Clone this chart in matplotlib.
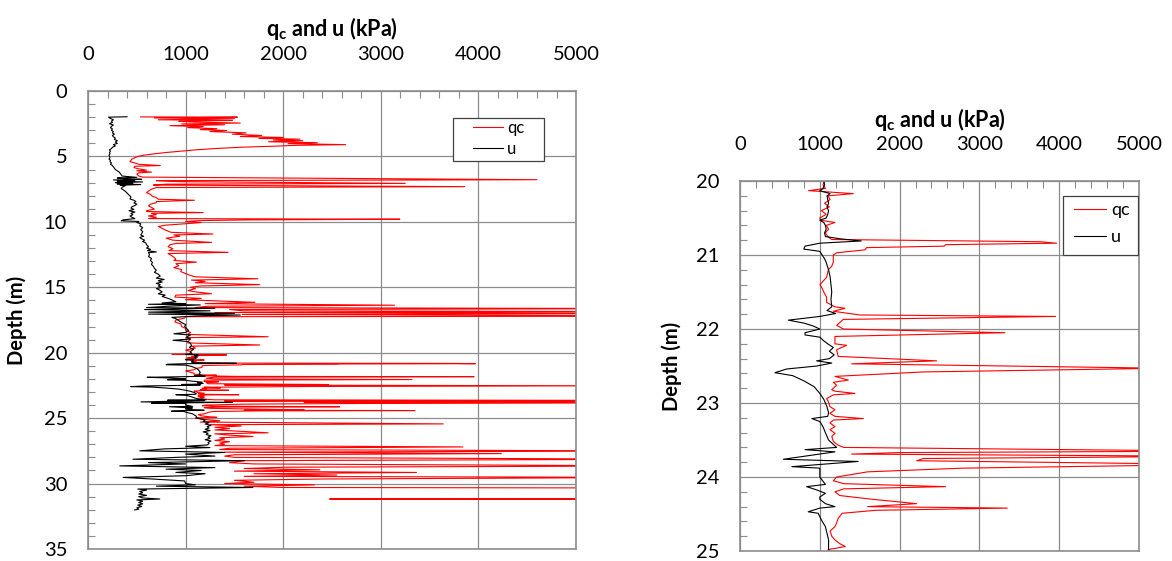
import matplotlib.pyplot as plt
from matplotlib.patches import Rectangle
from matplotlib.ticker import MultipleLocator

plt.rcParams['font.family'] = ['Lato', 'DejaVu Sans']
plt.rcParams['mathtext.fontset'] = 'custom'
plt.rcParams['mathtext.bf'] = 'Lato:bold'
plt.rcParams['mathtext.rm'] = 'Lato'

# cone resistance qc (kPa) against depth (m); values above 5000 run off the chart
qc_depth = [1.98, 2.0, 2.06, 2.12, 2.2, 2.25, 2.32, 2.38, 2.45, 2.52, 2.58, 2.65, 2.72, 2.8, 2.88, 2.95,
            3.02, 3.1, 3.2, 3.3, 3.4, 3.48, 3.55, 3.62, 3.68, 3.75, 3.8, 3.88, 3.95, 4.02, 4.1, 4.15,
            4.22, 4.3, 4.4, 4.5, 4.6, 4.7, 4.8, 4.9, 5.0, 5.1, 5.2, 5.3, 5.4, 5.5, 5.6, 5.7, 5.75, 5.85,
            5.95, 6.05, 6.1, 6.2, 6.25, 6.35, 6.5, 6.58, 6.78, 6.85, 6.93, 7.06, 7.12, 7.19, 7.31, 7.38,
            7.5, 7.65, 7.77, 7.9, 8.05, 8.15, 8.27, 8.35, 8.45, 8.53, 8.65, 8.78, 8.9, 9.03, 9.15, 9.21,
            9.29, 9.35, 9.45, 9.55, 9.65, 9.75, 9.8, 9.85, 9.9, 9.97, 10.05, 10.15, 10.25, 10.35, 10.5,
            10.65, 10.8, 10.93, 11.0, 11.1, 11.25, 11.4, 11.57, 11.65, 11.75, 11.9, 12.05, 12.2, 12.33,
            12.42, 12.55, 12.7, 12.85, 12.95, 13.08, 13.2, 13.35, 13.5, 13.65, 13.8, 13.95, 14.1, 14.2,
            14.35, 14.45, 14.55, 14.65, 14.8, 14.9, 15.0, 15.1, 15.25, 15.35, 15.49, 15.6, 15.75, 15.85,
            15.95, 16.15, 16.25, 16.37, 16.45, 16.55, 16.63, 16.7, 16.8, 16.86, 16.93, 17.0, 17.08, 17.18,
            17.21, 17.25, 17.35, 17.5, 17.65, 17.8, 18.0, 18.15, 18.3, 18.45, 18.6, 18.78, 18.85, 18.95,
            19.1, 19.25, 19.41, 19.5, 19.65, 19.8, 19.9,
            20.0, 20.05, 20.1, 20.13, 20.15, 20.17, 20.2, 20.25, 20.3, 20.35, 20.4, 20.45, 20.5, 20.53,
            20.56, 20.6, 20.65, 20.7, 20.75, 20.79, 20.82, 20.84, 20.86, 20.88, 20.9, 20.93, 20.97, 21.0,
            21.1, 21.15, 21.2, 21.3, 21.4, 21.45, 21.5, 21.57, 21.64, 21.7, 21.72, 21.76, 21.81, 21.83,
            21.87, 21.95, 22.0, 22.05, 22.1, 22.2, 22.22, 22.28, 22.37, 22.43, 22.47, 22.53, 22.58, 22.64,
            22.69, 22.72, 22.76, 22.82, 22.84, 22.87, 22.89, 22.94, 22.98, 23.05, 23.09, 23.14, 23.18,
            23.21, 23.23, 23.27, 23.32, 23.36, 23.41, 23.45, 23.52, 23.57, 23.6, 23.65, 23.67, 23.69,
            23.72, 23.75, 23.78, 23.83, 23.88, 23.93, 24.0, 24.05, 24.09, 24.13, 24.16, 24.2, 24.25, 24.3,
            24.36, 24.4, 24.42, 24.45, 24.49, 24.56, 24.62, 24.67, 24.73, 24.8, 24.85, 24.9, 24.94, 24.98,
            25.0, 25.1, 25.2, 25.3, 25.44, 25.5, 25.6, 25.7, 25.8, 25.9, 26.0, 26.12, 26.2, 26.3, 26.4,
            26.5, 26.6, 26.7, 26.8, 26.9, 27.0, 27.1, 27.2, 27.3, 27.4, 27.51, 27.6, 27.71, 27.8, 27.9,
            28.0, 28.14, 28.25, 28.4, 28.5, 28.65, 28.75, 28.85, 28.95, 29.05, 29.15, 29.25, 29.35, 29.45,
            29.53, 29.65, 29.75, 29.9, 30.0, 30.1, 30.2, 30.3, 30.34, 31.15, 31.18, 31.21, 32.0]
qc_kpa = [540, 1530, 680, 1500, 720, 1480, 930, 1100, 1560, 960, 1400, 840, 1180, 1020, 1320, 1150,
          1420, 1250, 1620, 1480, 1780, 1560, 2000, 1750, 2170, 1900, 2200, 1850, 2350, 2050, 2640, 2150,
          1900, 1560, 1300, 1100, 950, 800, 680, 580, 510, 480, 450, 440, 430, 480, 520, 740, 480, 470,
          520, 600, 500, 650, 520, 500, 520, 560, 4600, 700, 960, 3250, 800, 670, 3860, 700,
          650, 620, 600, 640, 660, 700, 720, 1090, 700, 700, 640, 620, 650, 680, 600, 600,
          1180, 650, 700, 620, 700, 620, 3195, 1660, 1160, 1000, 1160, 990, 800, 720, 760,
          800, 850, 1280, 880, 940, 800, 870, 1265, 900, 840, 820, 870, 830, 1435,
          820, 850, 880, 900, 880, 1110, 900, 930, 880, 960, 950, 1000, 1050, 1100,
          1740, 1060, 1200, 1100, 1760, 1150, 1050, 1100, 1025, 1100, 1265, 900, 890, 1160,
          1000, 1710, 1200, 3140, 1230, 1100, 6000, 1450, 1590, 6000, 1300, 6000, 1580, 6000,
          6000, 1000, 990, 900, 890, 950, 960, 1000, 1000, 1050, 1020, 1845, 1000, 1050,
          1030, 1020, 1760, 1060, 1100, 1000, 1050,
          1060, 1040, 1070, 860, 1150, 1420, 1100, 1130, 1060, 1120, 1020, 1080, 1000, 1010,
          1190, 1080, 1110, 1070, 1100, 1150, 3760, 3968, 2577, 2560, 1587, 1566, 1211, 1169,
          1169, 1150, 1107, 1086, 1002, 1030, 1050, 1086, 1086, 1190, 1315, 1170, 1500, 3955,
          1295, 1211, 1295, 3320, 1190, 1190, 1336, 1211, 1230, 2464, 1400, 5300, 2300, 1190,
          1357, 1170, 1211, 1150, 1190, 1440, 1170, 1086, 1107, 1128, 1190, 1128, 1190,
          1545, 1170, 1128, 1190, 1128, 1190, 1150, 1170, 1230, 1300, 6000, 1984, 1399,
          6000, 2300, 2214, 6000, 2800, 1600, 1210, 1170, 1300, 2577, 1300, 1190, 1250, 1650,
          2214, 1600, 3350, 1700, 1280, 1230, 1211, 1190, 1130, 1150, 1190, 1250, 1320, 1107,
          1100, 1200, 1350, 1150, 3640, 1250, 1570, 1300, 1450, 1300, 1550, 1845, 1300, 1450, 1690,
          1350, 1400, 1300, 1450, 1350, 1400, 1300, 3840, 1450, 1350, 6000, 1400, 4235, 1500, 1400,
          1500, 6000, 1600, 1450, 1700, 6000, 2030, 1600, 2375, 1500, 3365, 1700, 2550, 1600,
          6000, 2410, 1500, 1700, 1400, 2320, 1600, 2000, 6000, 6000, 2475, 6000, 6000]

# pore pressure u (kPa) against depth (m)
u_depth = [1.97, 2.0, 2.1, 2.2, 2.3, 2.4, 2.5, 2.6, 2.7, 2.8, 2.9, 3.0, 3.1, 3.2, 3.3, 3.4, 3.5, 3.6, 3.7,
           3.8, 3.9, 4.0, 4.1, 4.2, 4.3, 4.4, 4.5, 4.6, 4.7, 4.8, 4.9, 5.0, 5.1, 5.2, 5.3, 5.4, 5.5, 5.6,
           5.7, 5.8, 5.9, 6.0, 6.1, 6.2, 6.3, 6.4, 6.5, 6.6, 6.65, 6.7, 6.75, 6.8, 6.85, 6.9, 6.95, 7.0,
           7.05, 7.1, 7.15, 7.2, 7.25, 7.35, 7.45, 7.55, 7.65, 7.8, 7.95, 8.1, 8.25, 8.35, 8.45, 8.55,
           8.65, 8.75, 8.85, 8.95, 9.05, 9.15, 9.25, 9.35, 9.45, 9.55, 9.65, 9.75, 9.85, 9.92, 9.97,
           10.05, 10.15, 10.3, 10.45, 10.6, 10.75, 10.9, 11.0, 11.1, 11.2, 11.3, 11.4, 11.5, 11.6, 11.75,
           11.9, 12.0, 12.1, 12.2, 12.3, 12.35, 12.5, 12.65, 12.8, 12.95, 13.1, 13.25, 13.4, 13.55, 13.7,
           13.85, 14.0, 14.15, 14.3, 14.4, 14.5, 14.6, 14.7, 14.8, 14.9, 15.0, 15.1, 15.2, 15.35, 15.5,
           15.6, 15.7, 15.8, 15.9, 16.0, 16.1, 16.2, 16.25, 16.3, 16.35, 16.45, 16.55, 16.6, 16.7, 16.8,
           16.9, 17.0, 17.05, 17.12, 17.2, 17.3, 17.4, 17.55, 17.7, 17.85, 18.0, 18.15, 18.3, 18.45,
           18.55, 18.65, 18.8, 18.95, 19.05, 19.15, 19.3, 19.45, 19.6, 19.75, 19.9,
           20.0, 20.05, 20.1, 20.13, 20.17, 20.2, 20.25, 20.3, 20.35, 20.4, 20.45, 20.5, 20.53, 20.56,
           20.6, 20.65, 20.7, 20.75, 20.78, 20.81, 20.84, 20.88, 20.92, 20.95, 21.0, 21.05, 21.1, 21.2,
           21.3, 21.4, 21.5, 21.6, 21.7, 21.75, 21.79, 21.83, 21.88, 21.92, 21.96, 22.0, 22.05, 22.08,
           22.11, 22.16, 22.2, 22.25, 22.3, 22.35, 22.4, 22.43, 22.46, 22.5, 22.54, 22.59, 22.63, 22.7,
           22.78, 22.87, 22.95, 23.05, 23.13, 23.18, 23.21, 23.25, 23.32, 23.4, 23.5, 23.6, 23.63, 23.66,
           23.76, 23.79, 23.86, 23.88, 24.0, 24.1, 24.13, 24.17, 24.22, 24.27, 24.3, 24.36, 24.4, 24.42,
           24.47, 24.49, 24.58, 24.67, 24.76, 24.85, 24.98,
           25.05, 25.15, 25.25, 25.35, 25.45, 25.55, 25.65, 25.75, 25.85, 25.95, 26.05, 26.15, 26.25,
           26.35, 26.45, 26.55, 26.65, 26.75, 26.85, 26.95, 27.05, 27.15, 27.25, 27.35, 27.5, 27.62,
           27.75, 27.9, 28.0, 28.14, 28.25, 28.4, 28.5, 28.65, 28.78, 28.9, 29.0, 29.15, 29.25, 29.4,
           29.53, 29.66, 29.8, 30.0, 30.1, 30.2, 30.3, 30.42, 30.5, 30.6, 30.7, 30.8, 30.9, 31.0, 31.1,
           31.18, 31.25, 31.35, 31.45, 31.55, 31.65, 31.75, 31.85, 31.95, 32.02]
u_kpa = [400, 210, 230, 260, 240, 250, 220, 260, 240, 230, 250, 240, 260, 250, 270, 250, 260, 280, 270,
         300, 280, 300, 260, 280, 250, 240, 220, 230, 220, 225, 215, 220, 225, 215, 230, 225, 240, 230,
         250, 260, 270, 280, 300, 320, 330, 340, 350, 500, 300, 380, 550, 260, 480, 300, 560, 280,
         460, 300, 540, 330, 380, 350, 340, 360, 380, 400, 420, 440, 430, 470, 490, 470,
         500, 480, 450, 440, 470, 420, 480, 440, 460, 430, 450, 480, 360, 340, 520,
         500, 540, 530, 560, 540, 560, 550, 540, 570, 530, 550, 580, 560, 590, 600,
         620, 600, 640, 610, 700, 620, 630, 620, 650, 640, 660, 650, 670, 680, 700,
         680, 720, 740, 700, 780, 720, 760, 700, 740, 720, 760, 700, 730, 760, 720,
         790, 760, 800, 840, 870, 900, 760, 1000, 620, 1150, 820, 600, 1300, 580, 1250,
         620, 1500, 620, 1560, 1100, 860, 900, 930, 960, 1000, 990, 1010, 1030, 1000,
         880, 1050, 1010, 1050, 870, 1030, 1050, 1060, 1040, 1080, 1050,
         1050, 1060, 1040, 1000, 1130, 1090, 1100, 1110, 1090, 1110, 1100, 1080, 1000, 1050,
         1070, 1080, 1060, 1070, 1250, 1520, 1000, 815, 800, 1000, 1030, 1060, 1080, 1110,
         1130, 1140, 1150, 1140, 1150, 1090, 1200, 1000, 606, 800, 920, 1000, 815, 815,
         1000, 1050, 1100, 1170, 1120, 1180, 1120, 960, 1150, 960, 585, 438, 660, 800,
         930, 1000, 1050, 1090, 1110, 1100, 900, 1000, 1040, 1070, 1110, 1211, 815, 1190,
         543, 1480, 650, 1000, 1000, 1070, 835, 950, 1070, 1000, 1000, 1070, 1190, 1000,
         855, 980, 1020, 1070, 1090, 1110, 1110,
         1150, 1200, 1180, 1240, 1200, 1260, 1220, 1240, 1200, 1250, 1180, 1230, 1210,
         1260, 1230, 1250, 1200, 1260, 1230, 1240, 1220, 1000, 1250, 785, 530, 1400,
         1000, 1300, 900, 460, 1605, 620, 1000, 325, 1300, 800, 1160, 900, 1200, 1000,
         360, 680, 990, 1000, 1100, 700, 1690, 510, 600, 530, 560, 520, 600, 520, 560,
         735, 500, 560, 520, 560, 510, 550, 500, 520, 478]

grid_col = '#8c8c8c'

fig = plt.figure(figsize=(11.72, 5.61), dpi=100)
ax1 = fig.add_axes([0.0751, 0.0214, 0.4164, 0.8164])
ax2 = fig.add_axes([0.6314, 0.0178, 0.3404, 0.6595])


def style(ax, y_lo, y_hi, y_minor, box, leg_anchor, leg_size, leg_space, ylab_pad):
    ax.plot(qc_kpa, qc_depth, color='red', lw=0.8, label='qc')
    ax.plot(u_kpa, u_depth, color='black', lw=0.8, label='u')
    ax.set_xlim(0, 5000)
    ax.set_ylim(y_hi, y_lo)
    ax.xaxis.tick_top()
    ax.xaxis.set_label_position('top')
    ax.xaxis.set_major_locator(MultipleLocator(1000))
    ax.xaxis.set_minor_locator(MultipleLocator(200))
    ax.yaxis.set_major_locator(MultipleLocator(5 if y_hi - y_lo > 10 else 1))
    ax.yaxis.set_minor_locator(MultipleLocator(y_minor))
    ax.tick_params(which='major', length=0, labelsize=14.5, pad=20)
    ax.tick_params(axis='y', which='major', pad=15)
    ax.tick_params(which='minor', direction='in', length=5, width=0.8, color=grid_col,
                   top=True, bottom=False, left=True, right=False)
    ax.grid(True, which='major', color=grid_col, lw=0.9)
    for s in ax.spines.values():
        s.set_color(grid_col)
        s.set_linewidth(1.2)
    ax.set_xlabel(r'$\mathbf{q_c}$ and u (kPa)', fontsize=15.5, fontweight='bold', labelpad=7)
    ax.set_ylabel('Depth (m)', fontsize=14.5, fontweight='bold', labelpad=ylab_pad)
    # legend frame drawn on its own, entries placed inside it
    ax.add_patch(Rectangle((box[0], box[1]), box[2] - box[0], box[3] - box[1],
                           transform=ax.transAxes, facecolor='white', edgecolor='#404040',
                           lw=0.9, zorder=5))
    leg = ax.legend(loc='upper left', bbox_to_anchor=leg_anchor, fontsize=leg_size,
                    frameon=False, borderpad=0, borderaxespad=0, labelspacing=leg_space,
                    handlelength=1.8, handletextpad=0.25)
    leg.set_zorder(6)


style(ax1, 0, 35, 1, (0.747, 0.848, 0.934, 0.942), (0.789, 0.937), 12, 0.32, 12)
style(ax2, 20, 25, 0.2, (0.8095, 0.80, 0.9975, 0.960), (0.837, 0.942), 13, 0.58, 10)

fig.savefig('out.png', dpi=100)
